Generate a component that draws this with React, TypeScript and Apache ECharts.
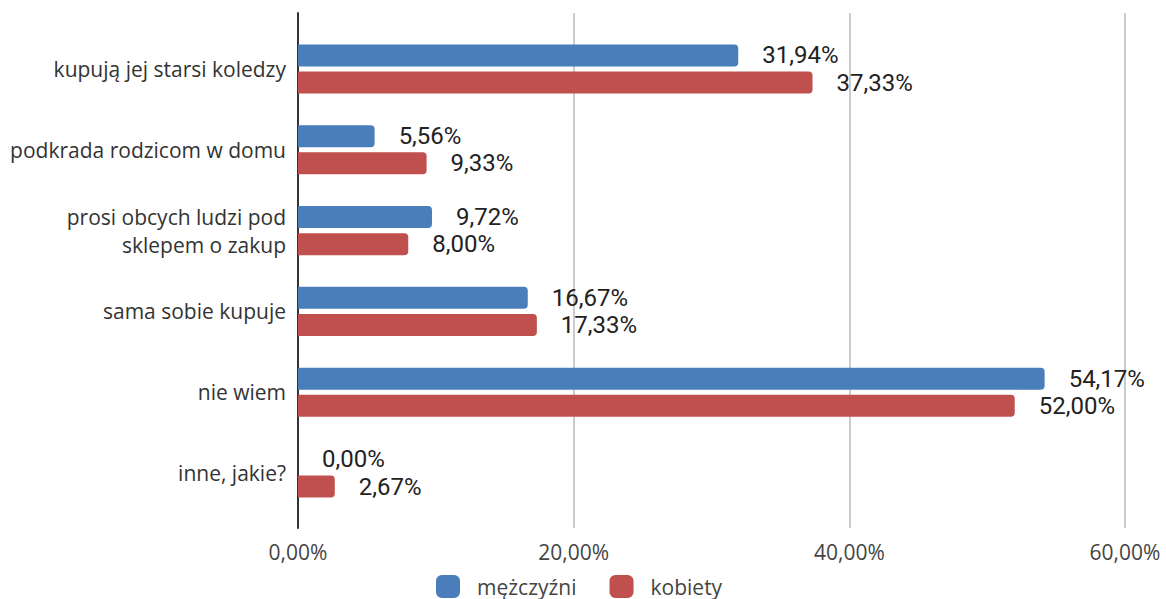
import React, { useEffect, useRef } from "react";
import * as echarts from "echarts";

const categories = [
  "kupują jej starsi koledzy",
  "podkrada rodzicom w domu",
  "prosi obcych ludzi pod\nsklepem o zakup",
  "sama sobie kupuje",
  "nie wiem",
  "inne, jakie?",
];
const men = [31.94, 5.56, 9.72, 16.67, 54.17, 0.0];
const women = [37.33, 9.33, 8.0, 17.33, 52.0, 2.67];
const seriesNames = ["mężczyźni", "kobiety"];
const xTicks = [0, 20, 40, 60];

const fmt = (v: number) => v.toFixed(2).replace(".", ",") + "%";

export default function App() {
  const ref = useRef<HTMLDivElement>(null);
  useEffect(() => {
    if (!ref.current) return;
    const chart = echarts.init(ref.current, null, { renderer: "svg" });
    const left = 298;
    const right = 1166 - 1125;
    const labelStyle = {
      show: true,
      position: "right",
      distance: 24,
      fontSize: 24,
      fontFamily: "Roboto",
      color: "#222222",
      formatter: (p: any) => fmt(p.value),
    };
    chart.setOption({
      animation: false,
      backgroundColor: "#ffffff",
      grid: [
        { left, right, top: 28.6, height: 484.8, containLabel: false },
        { left, right, top: 13, height: 515, containLabel: false },
      ],
      xAxis: [
        {
          gridIndex: 0,
          type: "value",
          min: xTicks[0],
          max: xTicks[xTicks.length - 1],
          interval: 20,
          show: false,
        },
        {
          gridIndex: 1,
          type: "value",
          min: xTicks[0],
          max: xTicks[xTicks.length - 1],
          interval: 20,
          axisLine: { show: false },
          axisTick: { show: false },
          splitLine: { show: true, lineStyle: { color: "#cccccc", width: 2 } },
          axisLabel: {
            margin: 13,
            fontSize: 21,
            fontFamily: "Open Sans",
            color: "#444444",
            formatter: (v: number) => fmt(v),
          },
          z: 0,
        },
      ],
      yAxis: [
        {
          gridIndex: 0,
          type: "category",
          data: categories,
          inverse: true,
          axisLine: { show: false },
          axisTick: { show: false },
          axisLabel: {
            margin: 12,
            fontSize: 21,
            fontFamily: "Open Sans",
            color: "#333333",
            lineHeight: 28,
            align: "right",
          },
        },
        {
          gridIndex: 1,
          type: "value",
          min: 0,
          max: 1,
          axisLine: { show: true, lineStyle: { color: "#333333", width: 2 } },
          axisTick: { show: false },
          axisLabel: { show: false },
          splitLine: { show: false },
        },
      ],
      legend: {
        left: 431,
        top: 570,
        padding: 5,
        itemWidth: 24,
        itemHeight: 23,
        itemGap: 33,
        icon: "roundRect",
        textStyle: {
          fontSize: 21,
          fontFamily: "Open Sans",
          color: "#444444",
          padding: [0, 0, 0, 12],
        },
        data: seriesNames,
      },
      series: [
        {
          name: seriesNames[0],
          type: "bar",
          xAxisIndex: 0,
          yAxisIndex: 0,
          data: men,
          barWidth: 22,
          barGap: "23%",
          itemStyle: { color: "#4a7ebb", borderRadius: [0, 4, 4, 0] },
          label: labelStyle,
          z: 3,
        },
        {
          name: seriesNames[1],
          type: "bar",
          xAxisIndex: 0,
          yAxisIndex: 0,
          data: women,
          barWidth: 22,
          barGap: "23%",
          itemStyle: { color: "#c0504d", borderRadius: [0, 4, 4, 0] },
          label: labelStyle,
          z: 3,
        },
      ],
    });
    return () => chart.dispose();
  }, []);
  return (
    <div
      ref={ref}
      style={{ position: "fixed", left: 0, top: 0, width: 1166, height: 599 }}
    />
  );
}
